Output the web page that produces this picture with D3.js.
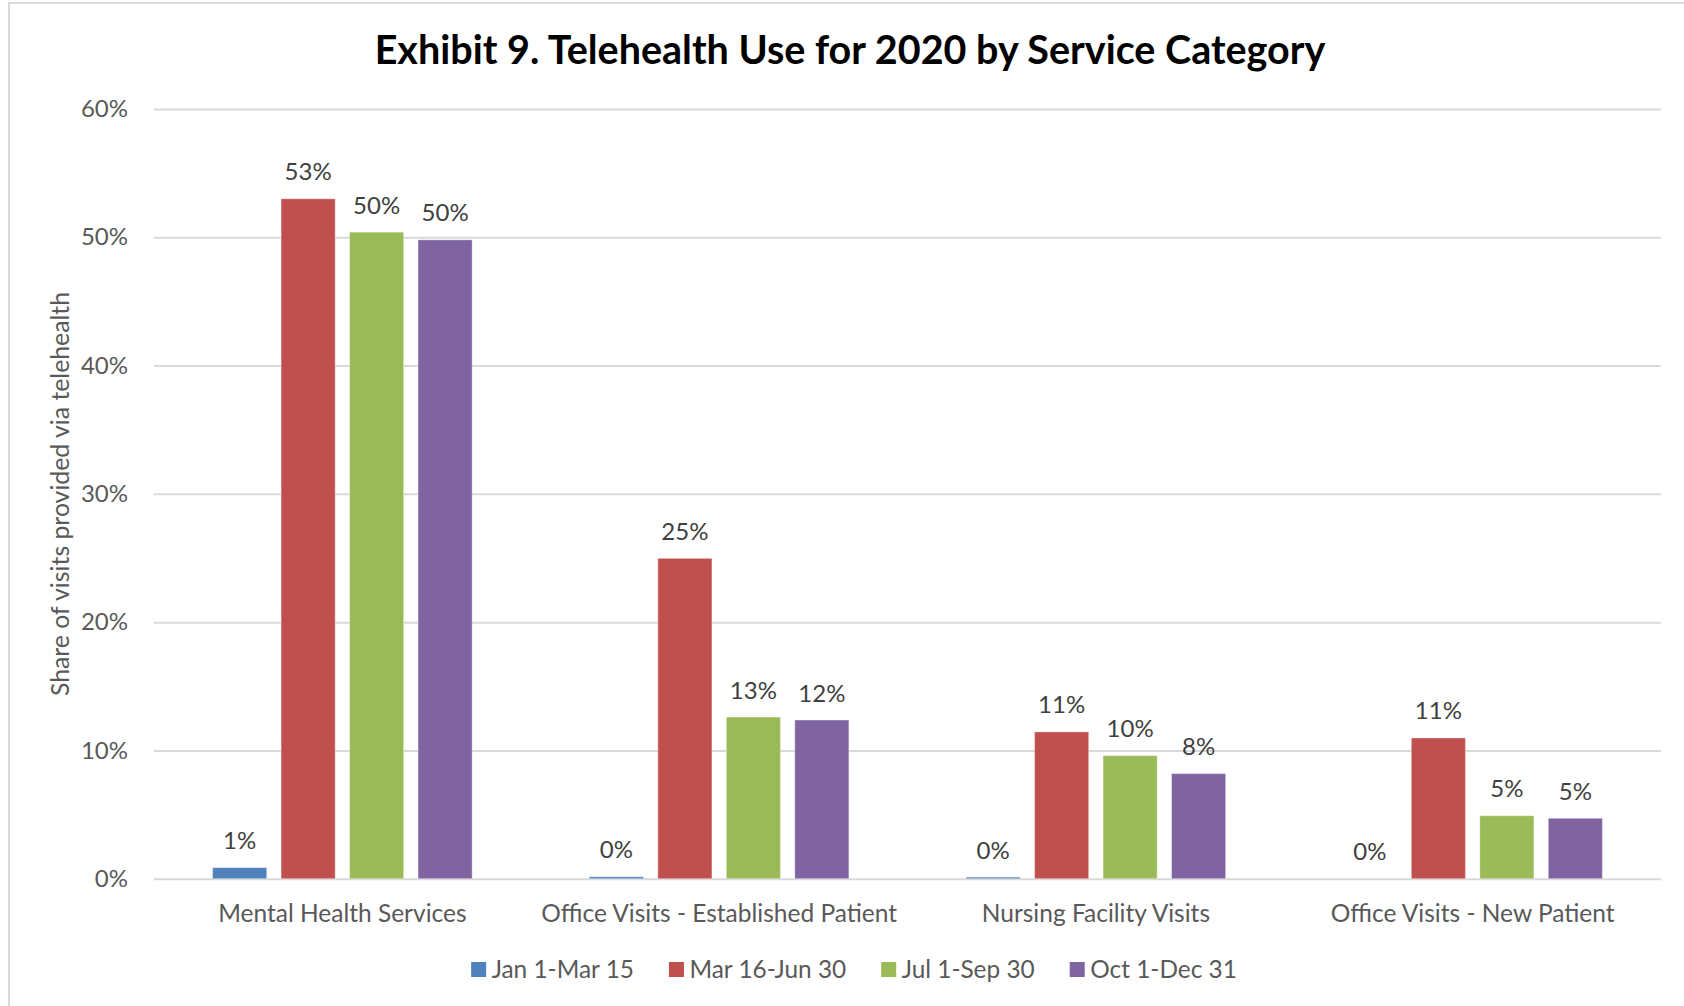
<!DOCTYPE html>
<html>
<head>
<meta charset="utf-8">
<script src="https://cdn.jsdelivr.net/npm/d3@7"></script>
<style>
  html, body { margin: 0; padding: 0; background: #fff; }
  svg { display: block; }
  text { font-family: Lato, "Open Sans", sans-serif; }
</style>
</head>
<body>
<svg id="chart" width="1684" height="1006"></svg>
<script>
// Service categories along the x axis
const categories = [
  "Mental Health Services",
  "Office Visits - Established Patient",
  "Nursing Facility Visits",
  "Office Visits - New Patient"
];

// Reporting periods (one bar per period inside each category)
const periods = ["Jan 1-Mar 15", "Mar 16-Jun 30", "Jul 1-Sep 30", "Oct 1-Dec 31"];

// Share of visits delivered via telehealth, per period, in category order
const janMar = [0.0086, 0.0015, 0.0012, 0.0];
const marJun = [0.530, 0.2497, 0.1144, 0.1097];
const julSep = [0.504, 0.126, 0.0959, 0.0491];
const octDec = [0.498, 0.1237, 0.0819, 0.0471];

const seriesValues = [janMar, marJun, julSep, octDec];
const periodColors = ["#4F81BD", "#C0504D", "#9BBB59", "#8064A2"];

const yTickValues = [0, 0.1, 0.2, 0.3, 0.4, 0.5, 0.6];

const W = 1684, H = 1006;
const plot = { left: 154, right: 1661, top: 109, bottom: 878.7 };
const pct = d3.format(".0%");

const svg = d3.select("#chart");

// white chart area with its light frame
svg.append("rect").attr("width", W).attr("height", H).attr("fill", "#fff");
svg.append("rect")
  .attr("x", 9).attr("y", 3).attr("width", 1690).attr("height", 1012)
  .attr("fill", "none").attr("stroke", "#d9d9d9").attr("stroke-width", 2);

// scales
const x0 = d3.scaleBand().domain(categories).range([plot.left, plot.right]).padding(0);
const x1 = d3.scaleBand().domain(periods).range([0, x0.bandwidth()])
  .paddingInner(0.21).paddingOuter(0.856);
const y = d3.scaleLinear().domain([0, 0.6]).range([plot.bottom, plot.top]);

// title
svg.append("text")
  .attr("x", 850).attr("y", 64)
  .attr("text-anchor", "middle")
  .attr("font-size", 39.5).attr("font-weight", 700).attr("fill", "#000")
  .text("Exhibit 9. Telehealth Use for 2020 by Service Category");

// y axis with gridlines
const yAxis = svg.append("g")
  .attr("transform", `translate(${plot.left},0)`)
  .call(d3.axisLeft(y).tickValues(yTickValues).tickFormat(pct)
    .tickSize(-(plot.right - plot.left)).tickPadding(26));
yAxis.select(".domain").remove();
yAxis.selectAll(".tick line").attr("stroke", "#d9d9d9").attr("stroke-width", 2);
yAxis.selectAll(".tick text")
  .attr("font-size", 24).attr("fill", "#595959")
  .style("font-family", "Lato, 'Open Sans', sans-serif");

// y axis title
svg.append("text")
  .attr("transform", `translate(69,494) rotate(-90)`)
  .attr("text-anchor", "middle")
  .attr("font-size", 24.8).attr("fill", "#595959")
  .text("Share of visits provided via telehealth");

// bars
const rows = categories.map((c, i) => ({
  category: c,
  values: periods.map((p, j) => ({ period: p, value: seriesValues[j][i], color: periodColors[j] }))
}));

const groups = svg.append("g").selectAll("g")
  .data(rows).join("g")
  .attr("transform", d => `translate(${x0(d.category)},0)`);

groups.selectAll("rect")
  .data(d => d.values).join("rect")
  .attr("x", d => x1(d.period))
  .attr("width", x1.bandwidth())
  .attr("y", d => y(d.value))
  .attr("height", d => y(0) - y(d.value))
  .attr("fill", d => d.color)
  .attr("stroke", "#ffffff").attr("stroke-opacity", 0.35).attr("stroke-width", 1);

// value labels
groups.selectAll("text.value")
  .data(d => d.values).join("text")
  .attr("class", "value")
  .attr("x", d => x1(d.period) + x1.bandwidth() / 2)
  .attr("y", d => y(d.value) - 18.5)
  .attr("text-anchor", "middle")
  .attr("font-size", 24).attr("fill", "#404040")
  .text(d => pct(d.value));

// x axis (category labels); the 0% gridline doubles as the baseline
const xAxis = svg.append("g")
  .attr("transform", `translate(0,${plot.bottom})`)
  .call(d3.axisBottom(x0).tickSize(0));
xAxis.select(".domain").remove();
xAxis.selectAll(".tick text")
  .attr("y", 43).attr("dy", 0)
  .attr("font-size", 24.5).attr("fill", "#595959")
  .style("font-family", "Lato, 'Open Sans', sans-serif");

// legend, centred under the chart
const legend = svg.append("g");
const items = legend.selectAll("g").data(periods).join("g");
items.append("rect")
  .attr("width", 15).attr("height", 15).attr("y", 962)
  .attr("fill", (d, i) => periodColors[i]);
items.append("text")
  .attr("x", 20.5).attr("y", 977.5)
  .attr("font-size", 24.4).attr("fill", "#595959")
  .text(d => d);

let cursor = 0;
const gap = 35;
items.each(function () {
  const g = d3.select(this);
  const w = 20.5 + g.select("text").node().getComputedTextLength();
  g.attr("transform", `translate(${cursor},0)`);
  cursor += w + gap;
});
const legendWidth = cursor - gap;
legend.attr("transform", `translate(${854 - legendWidth / 2},0)`);
</script>
</body>
</html>
